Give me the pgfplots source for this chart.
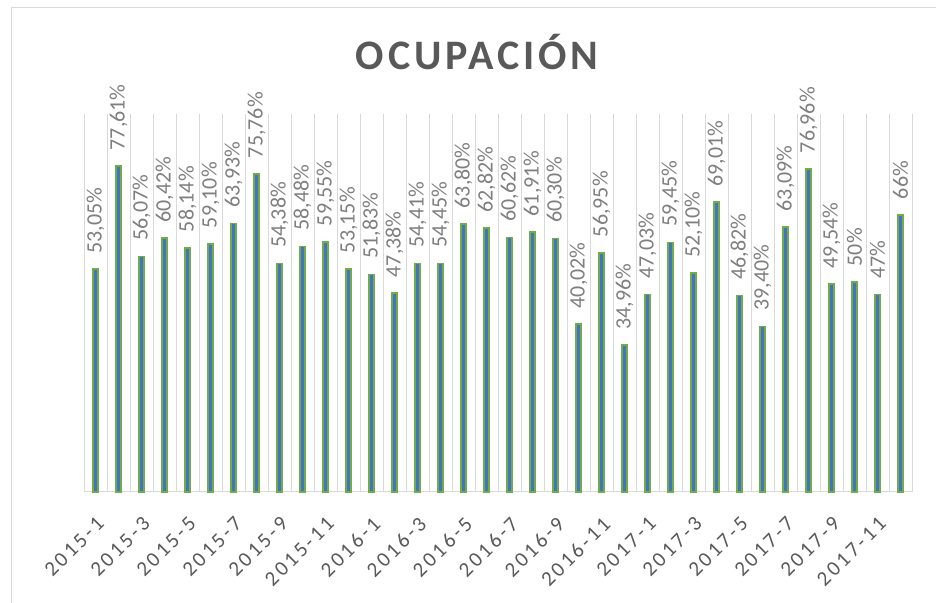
\documentclass[border=0pt]{standalone}
\usepackage{pgfplots}
\pgfplotsset{compat=1.18}
\usepackage{pgfplotstable}
\usepackage{fontspec}
\setmainfont{Carlito}
\newfontfamily\lblfont{Carlito}
\newfontfamily\tickfont[LetterSpace=14]{Carlito}
\newfontfamily\titlefont[LetterSpace=9]{Carlito}
\definecolor{gridgray}{HTML}{D9D9D9}
\definecolor{labgray}{HTML}{7F7F7F}
\definecolor{darkgray}{HTML}{595959}
\definecolor{barblue}{HTML}{4472C4}
\definecolor{bargreen}{HTML}{70AD47}
\pgfplotstableread{
x y lab
0 53.05 53,05
1 77.61 77,61
2 56.07 56,07
3 60.42 60,42
4 58.14 58,14
5 59.10 59,10
6 63.93 63,93
7 75.76 75,76
8 54.38 54,38
9 58.48 58,48
10 59.55 59,55
11 53.15 53,15
12 51.83 51,83
13 47.38 47,38
14 54.41 54,41
15 54.45 54,45
16 63.80 63,80
17 62.82 62,82
18 60.62 60,62
19 61.91 61,91
20 60.30 60,30
21 40.02 40,02
22 56.95 56,95
23 34.96 34,96
24 47.03 47,03
25 59.45 59,45
26 52.10 52,10
27 69.01 69,01
28 46.82 46,82
29 39.40 39,40
30 63.09 63,09
31 76.96 76,96
32 49.54 49,54
33 50 50
34 47 47
35 66 66
}\datatable
\begin{document}
\begin{tikzpicture}[x=1bp,y=1bp]
\useasboundingbox (0,0) rectangle (936,603);
\draw[gridgray, line width=1bp] (11,0) -- (11,595) -- (936,595);
\node[anchor=base, text=darkgray, font=\titlefont\bfseries\fontsize{42bp}{48bp}\selectfont] at (477,533) {OCUPACIÓN};
\begin{axis}[
  at={(84bp,111bp)}, anchor=south west,
  scale only axis, width=828bp, height=378bp,
  xmin=-0.5, xmax=35.5, ymin=0, ymax=90,
  axis x line=bottom, axis y line=none,
  x axis line style={draw=gridgray, line width=1bp, -},
  ybar, bar width=5bp,
  xtick={0,2,...,34},
  xticklabels={2015-1,2015-3,2015-5,2015-7,2015-9,2015-11,2016-1,2016-3,2016-5,2016-7,2016-9,2016-11,2017-1,2017-3,2017-5,2017-7,2017-9,2017-11},
  minor xtick={-0.5,0.5,...,35.5},
  xminorgrids=true,
  minor grid style={draw=gridgray, line width=1bp},
  major tick length=0, minor tick length=0,
  ytick=\empty,
  xticklabel shift=22bp,
  x tick label style={font=\tickfont\fontsize{21bp}{25bp}\selectfont, text=darkgray, rotate=45, anchor=north east, inner sep=1bp},
  point meta=explicit symbolic,
  nodes near coords={\pgfplotspointmeta\%},
  nodes near coords style={font=\lblfont\fontsize{22bp}{26bp}\selectfont, text=labgray, rotate=90, anchor=west, inner xsep=15bp, inner ysep=0bp},
  clip=false,
]
\addplot[fill=barblue, draw=bargreen, line width=1.5bp] table[x=x, y=y, meta=lab] {\datatable};
\end{axis}
\end{tikzpicture}
\end{document}
